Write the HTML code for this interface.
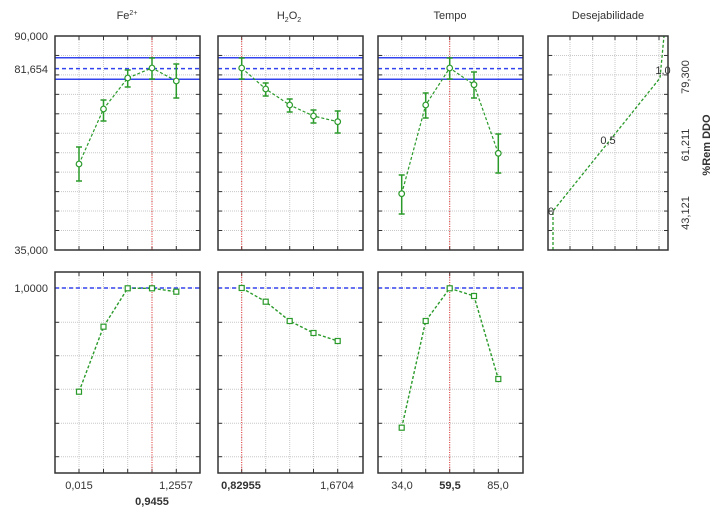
<!DOCTYPE html>
<html><head><meta charset="utf-8"><style>
body{margin:0;background:#fff}
svg{display:block;font-family:"Liberation Sans",sans-serif}
</style></head><body>
<svg id="s" width="714" height="515" viewBox="0 0 714 515" xmlns="http://www.w3.org/2000/svg">
<g font-size="11" fill="#333">
<text x="127" y="19" text-anchor="middle">Fe<tspan font-size="7" dy="-4">2+</tspan></text>
<text x="289" y="19" text-anchor="middle">H<tspan font-size="7" dy="3">2</tspan><tspan dy="-3">O</tspan><tspan font-size="7" dy="3">2</tspan></text>
<text x="450" y="19" text-anchor="middle">Tempo</text>
<text x="608" y="19" text-anchor="middle">Desejabilidade</text>
<text x="48" y="40" text-anchor="end">90,000</text>
<text x="48" y="73" text-anchor="end">81,654</text>
<text x="48" y="254" text-anchor="end">35,000</text>
<text x="48" y="292" text-anchor="end">1,0000</text>
<text x="79" y="489" text-anchor="middle">0,015</text>
<text x="176" y="489" text-anchor="middle">1,2557</text>
<text x="152" y="505" text-anchor="middle" font-weight="bold">0,9455</text>
<text x="241" y="489" text-anchor="middle" font-weight="bold">0,82955</text>
<text x="337" y="489" text-anchor="middle">1,6704</text>
<text x="402" y="489" text-anchor="middle">34,0</text>
<text x="450" y="489" text-anchor="middle" font-weight="bold">59,5</text>
<text x="498" y="489" text-anchor="middle">85,0</text>
<text transform="translate(689,77) rotate(-90)" text-anchor="middle">79,300</text>
<text transform="translate(689,145) rotate(-90)" text-anchor="middle">61,211</text>
<text transform="translate(689,213) rotate(-90)" text-anchor="middle">43,121</text>
<text transform="translate(710,145) rotate(-90)" text-anchor="middle" font-weight="bold">%Rem DDO</text>
</g>
</svg>
<script>
const s=document.getElementById('s');const NS='http://www.w3.org/2000/svg';
function el(t,a){const e=document.createElementNS(NS,t);for(const k in a)e.setAttribute(k,a[k]);s.appendChild(e);return e;}
function line(x1,y1,x2,y2,st,w,d){el('line',{x1,y1,x2,y2,stroke:st,'stroke-width':w||1,'stroke-dasharray':d||''});}
const G='#2a9a2a';
function grid(x0,x1,y0,y1,xs,ys){
 xs.forEach(x=>{line(x,y0,x,y1,'#c8c8c8',1,'1,1');line(x,y1,x,y1-4,'#333',1);line(x,y0,x,y0+4,'#333',1);});
 ys.forEach(y=>{line(x0,y,x1,y,'#c8c8c8',1,'1,1');line(x0,y,x0+4,y,'#333',1);line(x1,y,x1-4,y,'#333',1);});
}
function frame(x0,x1,y0,y1){el('rect',{x:x0,y:y0,width:x1-x0,height:y1-y0,fill:'none',stroke:'#333','stroke-width':1.5});}
const topYs=[];for(let i=1;i<11;i++)topYs.push(36+19.45*i);
const botYs=[288,322.3,355.7,389.3,423.3,456.7];
const panels=[
 {x0:55,red:152,xs:[79,103.5,127.7,152,176.3],
  top:[[79,164,147,181],[103.5,109,100,121],[127.7,78,70,87],[152,68,58,79],[176.3,81,64,98]],
  bot:[391.7,326.7,288.3,288.3,291.7]},
 {x0:218,red:241.7,xs:[241.7,265.7,289.7,313.5,337.7],
  top:[[241.7,68,58,79],[265.7,89,83,96],[289.7,105,99,112],[313.5,116,110,123],[337.7,121.7,111,133]],
  bot:[288,301.7,321,333,341]},
 {x0:378,red:449.7,xs:[401.7,425.7,449.7,474,498.3],
  top:[[401.7,193.7,175,214],[425.7,105,93,118],[449.7,68,58,79],[474,84.7,72,98],[498.3,153.3,134,173]],
  bot:[427.7,321,288.3,296,379]}
];
panels.forEach(p=>{
 const x1=p.x0+145;
 grid(p.x0,x1,36,250,p.xs,topYs);
 grid(p.x0,x1,272,473,p.xs,botYs);
 line(p.x0,57.7,x1,57.7,'#3344ee',1.5);line(p.x0,79.3,x1,79.3,'#3344ee',1.5);
 line(p.x0,68.6,x1,68.6,'#3344ee',1.5,'4,3');
 line(p.x0,288,x1,288,'#3344ee',1.5,'4,3');
 line(p.red,36,p.red,250,'#ee3333',1,'1,1.5');line(p.red,272,p.red,473,'#ee3333',1,'1,1.5');
 el('polyline',{points:p.top.map(t=>t[0]+','+t[1]).join(' '),fill:'none',stroke:G,'stroke-width':1.2,'stroke-dasharray':'3,2'});
 p.top.forEach(t=>{line(t[0],t[2],t[0],t[3],G,1.5);line(t[0]-3,t[2],t[0]+3,t[2],G,1.5);line(t[0]-3,t[3],t[0]+3,t[3],G,1.5);
  el('circle',{cx:t[0],cy:t[1],r:2.8,fill:'#fff',stroke:G,'stroke-width':1.2});});
 el('polyline',{points:p.xs.map((x,i)=>x+','+p.bot[i]).join(' '),fill:'none',stroke:G,'stroke-width':1.4,'stroke-dasharray':'3,2'});
 p.xs.forEach((x,i)=>el('rect',{x:x-2.5,y:p.bot[i]-2.5,width:5,height:5,fill:'#fff',stroke:G,'stroke-width':1.2}));
 frame(p.x0,x1,36,250);frame(p.x0,x1,272,473);
});
grid(548,668,36,250,[570,592.7,615,636.7,659],topYs);
el('polyline',{points:'553,250 553,211 660,78 664,36',fill:'none',stroke:G,'stroke-width':1.3,'stroke-dasharray':'3,2'});
frame(548,668,36,250);
[['0',551,215],['0,5',608,144],['1,0',663,74]].forEach(a=>{const t=el('text',{x:a[1],y:a[2],'text-anchor':'middle','font-size':11,fill:'#333'});t.textContent=a[0];});
</script>
</body></html>
